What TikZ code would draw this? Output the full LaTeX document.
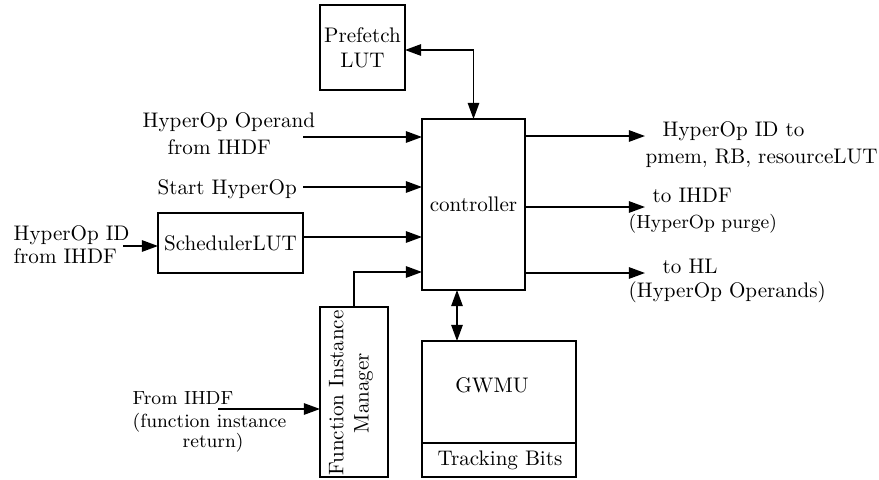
\documentclass[tikz,border=0pt]{standalone}
\usetikzlibrary{arrows.meta}
\begin{document}
\begin{tikzpicture}[x=0.474pt,y=-0.474pt,line width=0.7pt,
  box/.style={draw,inner sep=0pt,outer sep=0pt,align=center},
  tip/.tip={Triangle[length=7.6pt,width=5.4pt]},
  arr/.style={-tip},
  dbl/.style={tip-tip},
  lbl/.style={anchor=base west,inner sep=0pt},
  slbl/.style={lbl,font=\small}]
\useasboundingbox (0,0) rectangle (879,480);

% blocks (sizes given in the picture's units of 0.474pt)
\node[box,minimum width=85*0.474pt,minimum height=85*0.474pt] (pref) at (362.5,47.5) {Prefetch\\LUT};
\node[box,minimum width=103*0.474pt,minimum height=171*0.474pt] (ctrl) at (473.5,204.5) {controller};
\node[box,minimum width=145*0.474pt,minimum height=60*0.474pt] (sched) at (230.5,243) {SchedulerLUT};
\node[box,minimum width=68*0.474pt,minimum height=170*0.474pt] (fim) at (354,392) {};
\node[rotate=90,align=center,inner sep=0pt] (fimtxt) at (351,393) {Function Instance\\Manager};
\node[box,minimum width=154*0.474pt,minimum height=136*0.474pt] (gwmu) at (499,409) {};
\draw (gwmu.west |- 0,443) -- (gwmu.east |- 0,443);
\node[anchor=base,inner sep=0pt] (gwmutxt) at (492,392) {GWMU};
\node[anchor=base,inner sep=0pt] (track) at (500,465) {Tracking Bits};

% input labels
\node[lbl] (opA) at (142,127) {HyperOp Operand};
\node[lbl] (opB) at (167,154) {from IHDF};
\node[lbl] (start) at (157,194) {Start HyperOp};
\node[lbl] (idA) at (13,240) {HyperOp ID};
\node[lbl] (idB) at (13,263) {from IHDF};
\node[slbl] (fA) at (132,404) {From IHDF};
\node[slbl] (fB) at (132,427) {(function instance};
\node[slbl] (fC) at (182,447) {return)};

% output labels
\node[lbl] (outA1) at (662,136) {HyperOp ID to};
\node[lbl] (outA2) at (645,163) {pmem, RB, resourceLUT};
\node[lbl] (outB1) at (652,202) {to IHDF};
\node[slbl] (outB2) at (628,228) {(HyperOp purge)};
\node[lbl] (outC1) at (662,273) {to HL};
\node[lbl] (outC2) at (628,297) {(HyperOp Operands)};

% free ends of connectors
\coordinate (i1) at (303,137);
\coordinate (i2) at (303,187);
\coordinate (i3) at (123,246);
\coordinate (i4) at (218,409);
\coordinate (o1) at (645,136);
\coordinate (o2) at (645,207);
\coordinate (o3) at (645,273);

% connectors
\draw[arr] (i1) -- (ctrl.west |- i1);
\draw[arr] (i2) -- (ctrl.west |- i2);
\draw[arr] (i3) -- (sched.west |- i3);
\draw[arr] (sched.east |- 0,237) -- (ctrl.west |- 0,237);
\draw[arr] (fim.north) |- (ctrl.west |- 0,272);
\draw[arr] (i4) -- (fim.west |- i4);
\draw[arr] (ctrl.east |- o1) -- (o1);
\draw[arr] (ctrl.east |- o2) -- (o2);
\draw[arr] (ctrl.east |- o3) -- (o3);
\draw[dbl] (pref.east |- 0,50) -| (ctrl.north);
\draw[dbl] (ctrl.south -| 457,0) -- (gwmu.north -| 457,0);
\end{tikzpicture}
\end{document}
